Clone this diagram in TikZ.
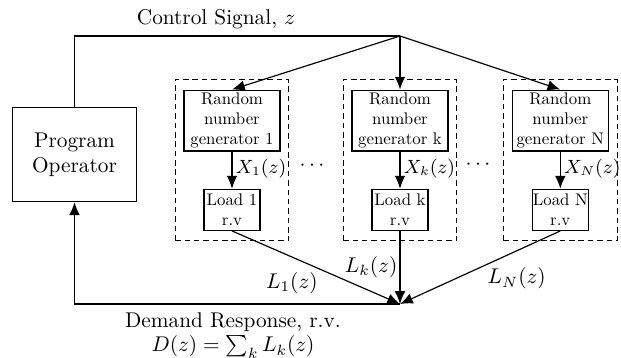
\documentclass[tikz,border=0pt]{standalone}
\usepackage{fontspec}
\newfontfamily\boxfont{lmroman10-regular}[Extension=.otf]
\usetikzlibrary{arrows.meta,fit}
\begin{document}
\begin{tikzpicture}[x=0.4695pt,y=-0.4695pt,
  every node/.style={inner sep=0pt},
  box/.style={draw,line width=0.55pt,align=center},
  rngbox/.style={box,minimum width=45pt,minimum height=28.6pt,font=\boxfont\fontsize{7.9}{9.4}\selectfont},
  loadbox/.style={box,minimum width=26.3pt,minimum height=19.3pt,font=\boxfont\fontsize{7.9}{9.4}\selectfont},
  progbox/.style={box,minimum width=58.1pt,minimum height=44.1pt},
  groupbox/.style={draw,line width=0.55pt,dash pattern=on 2.6pt off 1.8pt,inner xsep=3.9pt,inner ysep=4.6pt},
  link/.style={line width=0.55pt},
  arr/.style={link,-{Latex[length=6pt,width=5pt]}},
  xlbl/.style={font=\small,inner sep=1.5pt},
  llbl/.style={inner sep=1pt},
]
\useasboundingbox (0,0) rectangle (621,358);

\node[progbox] (prog) at (74.5,154.7) {Program\\Operator};

\node[rngbox] (rng1) at (232,120.6) {Random\\number\\generator 1};
\node[rngbox] (rngk) at (400,120.6) {Random\\number\\generator k};
\node[rngbox] (rngN) at (560.3,120.6) {Random\\number\\generator N};

\node[loadbox] (load1) at (232,209.8) {Load 1\\r.v};
\node[loadbox] (loadk) at (400,209.8) {Load k\\r.v};
\node[loadbox] (loadN) at (560.3,209.8) {Load N\\r.v};

\node[groupbox,fit=(rng1)(load1)] (g1) {};
\node[groupbox,fit=(rngk)(loadk)] (gk) {};
\node[groupbox,fit=(rngN)(loadN)] (gN) {};

\node (dots1) at (312,166) {$\cdots$};
\node (dots2) at (478,165) {$\cdots$};

\coordinate (ctrl) at (400,36);
\coordinate (sum) at (400,304);

\node[anchor=base] (ctrltext) at (216,25) {Control Signal, $z$};
\node[anchor=north,align=center] (dr) at (233,312) {Demand Response, r.v.\\[-0.4pt]$D(z)=\sum_k L_k(z)$};

\draw[link] (prog.north) |- (ctrl);
\draw[arr] (ctrl) -- (rng1.north);
\draw[arr] (ctrl) -- (rngk.north);
\draw[arr] (ctrl) -- (rngN.north);

\draw[arr] (rng1) -- node[xlbl,right,pos=0.45] {$X_1(z)$} (load1);
\draw[arr] (rngk) -- node[xlbl,right,pos=0.45] {$X_k(z)$} (loadk);
\draw[arr] (rngN) -- node[xlbl,right,pos=0.45] {$X_N(z)$} (loadN);

\draw[arr] (load1.south) -- node[llbl,pos=0.526,anchor=north east] {$L_1(z)$} (sum);
\draw[arr] (loadk) -- node[llbl,pos=0.5,anchor=east] {$L_k(z)$} (sum);
\draw[arr] (loadN.south) -- node[llbl,pos=0.47,anchor=north west] {$L_N(z)$} (sum);

\draw[arr] (sum) -| (prog.south);
\end{tikzpicture}
\end{document}
